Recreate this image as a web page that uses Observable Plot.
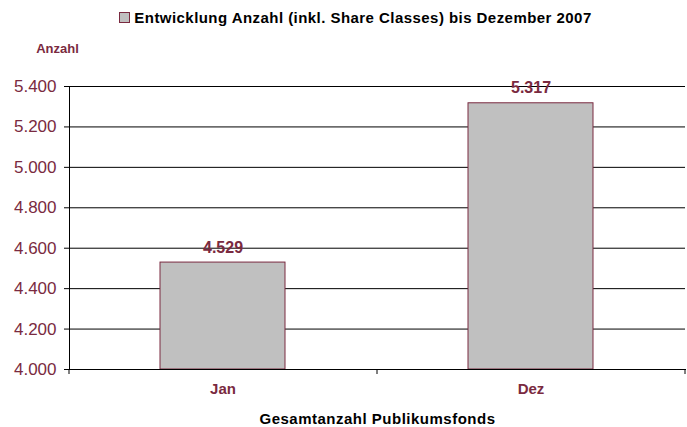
<!DOCTYPE html>
<html>
<head>
<meta charset="utf-8">
<script src="https://cdn.jsdelivr.net/npm/d3@7"></script>
<script src="https://cdn.jsdelivr.net/npm/@observablehq/plot@0.6"></script>
<style>
  body { margin: 0; background: #fff; font-family: "Liberation Sans", Arial, sans-serif; }
  #title { height: 34px; width: 687px; display: flex; align-items: center; justify-content: center; padding-left: 24px; box-sizing: border-box;
           font-weight: bold; font-size: 15px; letter-spacing: 0.45px; color: #000; }
  #title .sw { display: inline-block; width: 9px; height: 9px; background: #c0c0c0; border: 1px solid #7a2a40; margin-right: 4px; }
  #chart { margin-top: -4px; }
</style>
</head>
<body>
<div id="title"><span class="sw"></span><span id="titletext"></span></div>
<div id="chart"></div>
<script>
const titleText = "Entwicklung Anzahl (inkl. Share Classes) bis Dezember 2007";
const yLabel = "Anzahl";
const xTitle = "Gesamtanzahl Publikumsfonds";
const categories = ["Jan", "Dez"];
const values = [4529, 5317];
const yTicks = [4000, 4200, 4400, 4600, 4800, 5000, 5200, 5400];

document.getElementById("titletext").textContent = titleText;

const de = d3.formatLocale({decimal: ",", thousands: ".", grouping: [3], currency: ["", " €"]});
const fmt = de.format(",d");
const maroon = "#7a2a40";
const data = categories.map((c, i) => ({cat: c, value: values[i]}));

const boundaryTicks = (index, scales, values, dim) => {
  const g = d3.create("svg:g");
  const n = categories.length;
  const x0 = dim.marginLeft, x1 = dim.width - dim.marginRight;
  const yb = dim.height - dim.marginBottom;
  for (let k = 0; k <= n; k++) {
    const x = x0 + k * (x1 - x0) / n;
    g.append("line").attr("x1", x).attr("x2", x).attr("y1", yb).attr("y2", yb + 5)
      .attr("stroke", "#000");
  }
  return g.node();
};

const chart = Plot.plot({
  width: 687,
  height: 397,
  marginTop: 56,
  marginBottom: 58,
  marginLeft: 69,
  marginRight: 2,
  style: {fontFamily: "'Liberation Sans', Arial, sans-serif", background: "#fff"},
  x: {domain: categories, paddingInner: 0.594, paddingOuter: 0.297, align: 0.5},
  y: {domain: [4000, 5400]},
  marks: [
    Plot.gridY(yTicks, {stroke: "#000", strokeOpacity: 1, strokeWidth: 1}),
    Plot.barY(data, {x: "cat", y1: 4000, y2: "value", fill: "#c0c0c0", stroke: maroon, strokeWidth: 1}),
    Plot.frame({anchor: "left", stroke: "#000"}),
    Plot.frame({anchor: "bottom", stroke: "#000"}),
    Plot.axisY({ticks: yTicks, tickFormat: fmt, tickSize: 5, tickPadding: 8, stroke: "#000",
      fill: maroon, fontSize: 17, label: null}),
    Plot.axisX({tickSize: 0, tickPadding: 14, fill: maroon, fontSize: 15, fontWeight: "bold", label: null}),
    boundaryTicks,
    Plot.text(data, {x: "cat", y: "value", text: d => fmt(d.value), dy: -10, lineAnchor: "bottom",
      fill: maroon, fontSize: 16, fontWeight: "bold"}),
    Plot.text([yLabel], {frameAnchor: "top-left", text: d => d, dx: -12, dy: -43, textAnchor: "middle",
      fill: maroon, fontSize: 13, fontWeight: "bold"}),
    Plot.text([xTitle], {frameAnchor: "bottom", text: d => d, dy: 50, lineAnchor: "middle",
      fill: "#000", fontSize: 15, fontWeight: "bold"})
  ]
});
chart.querySelectorAll("text").forEach(t => { if (t.textContent === xTitle) t.setAttribute("letter-spacing", "0.5"); });
document.getElementById("chart").appendChild(chart);
</script>
</body>
</html>
